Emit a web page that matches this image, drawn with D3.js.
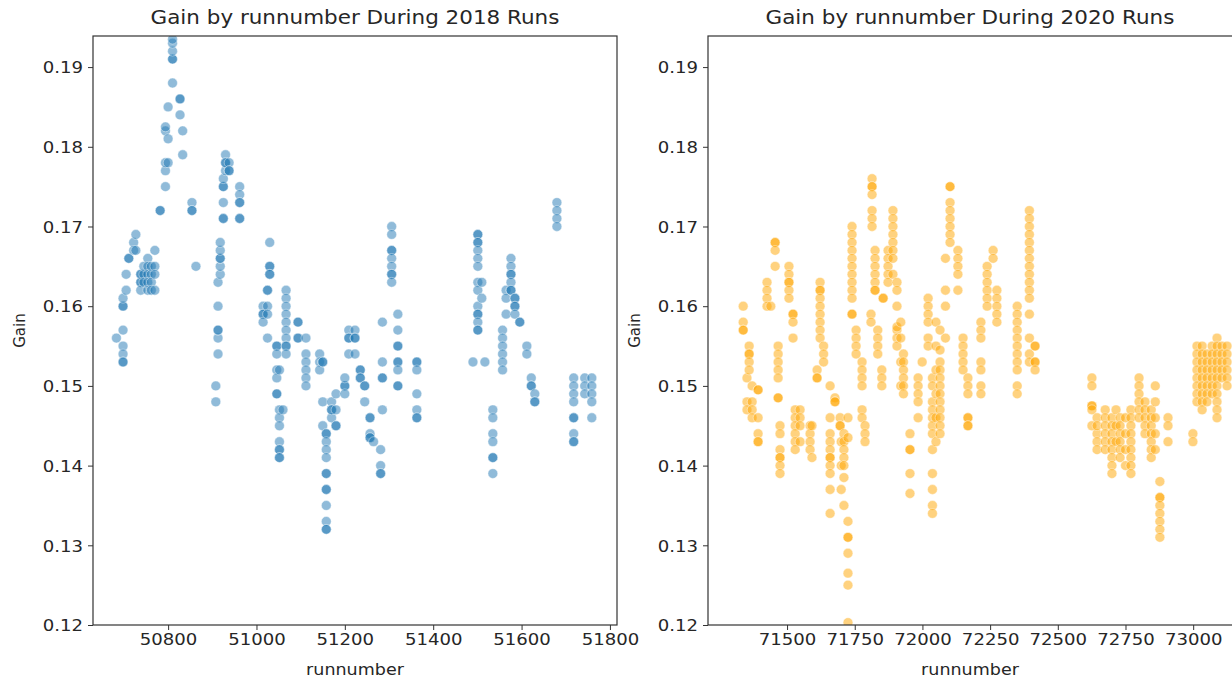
<!DOCTYPE html>
<html><head><meta charset="utf-8">
<script src="https://cdn.jsdelivr.net/npm/d3@7"></script>
<style>
body{margin:0;background:#fff;overflow:hidden}
text{font-family:"DejaVu Sans",sans-serif;fill:#262626}
</style>
</head><body>
<svg id="c" width="1232" height="681"></svg>
<script>
// ---------- data ----------
const title2018 = "Gain by runnumber During 2018 Runs";
const title2020 = "Gain by runnumber During 2020 Runs";
const xLabel = "runnumber";
const yLabel = "Gain";
const yTicks = [0.12, 0.13, 0.14, 0.15, 0.16, 0.17, 0.18, 0.19];
const xTicks2018 = [50800, 51000, 51200, 51400, 51600, 51800];
const xTicks2020 = [71500, 71750, 72000, 72250, 72500, 72750, 73000];

// 2018: run numbers and the gains recorded at each
const runs2018 = [50683,50698,50705,50711,50722,50727,50738,50745,50754,50762,50770,50782,50794,50800,50810,50827,50833,50854,50863,50908,50913,50918,50925,50930,50938,50962,51015,51025,51030,51046,51052,51060,51067,51094,51112,51143,51150,51158,51170,51180,51200,51209,51223,51235,51245,51257,51265,51281,51285,51306,51320,51363,51490,51501,51510,51517,51535,51557,51565,51576,51585,51596,51612,51622,51630,51680,51718,51743,51759];
const gains2018 = [
 [0.156],
 [0.157,0.155,0.154,0.153,0.153,0.160,0.160,0.161],
 [0.162,0.164],
 [0.166,0.166],
 [0.168,0.167],
 [0.169,0.167],
 [0.164,0.163,0.163,0.162,0.164],
 [0.164,0.163,0.165],
 [0.166,0.165,0.164,0.163,0.162],
 [0.164,0.163,0.165,0.162],
 [0.167,0.165,0.164,0.162],
 [0.172,0.172],
 [0.175,0.177,0.178,0.182,0.1825],
 [0.178,0.181,0.185],
 [0.188,0.191,0.191,0.192,0.193,0.1935],
 [0.186,0.186,0.184],
 [0.182,0.179],
 [0.173,0.172,0.172],
 [0.165],
 [0.150,0.148],
 [0.154,0.156,0.157,0.157,0.160,0.163],
 [0.164,0.165,0.166,0.166,0.167,0.168],
 [0.171,0.171,0.173,0.175,0.175,0.176],
 [0.177,0.179,0.178,0.178],
 [0.178,0.177,0.177],
 [0.175,0.174,0.173,0.173,0.171,0.171],
 [0.160,0.159,0.159,0.158],
 [0.160,0.159,0.156,0.162,0.162],
 [0.168,0.165,0.165,0.164,0.164],
 [0.155,0.155,0.154,0.152,0.151,0.149,0.149],
 [0.147,0.146,0.145,0.143,0.142,0.142,0.141,0.141,0.152],
 [0.147],
 [0.162,0.161,0.160,0.159,0.158,0.157,0.156,0.155,0.155,0.154],
 [0.158,0.158,0.156,0.156],
 [0.156,0.154,0.153,0.152,0.151,0.150],
 [0.154,0.153,0.152],
 [0.148,0.145,0.153,0.153],
 [0.144,0.144,0.143,0.142,0.141,0.139,0.139,0.137,0.137,0.135,0.133,0.132,0.132],
 [0.148,0.147,0.146,0.147],
 [0.145,0.145,0.149,0.147],
 [0.150,0.150,0.149,0.151],
 [0.154,0.157,0.156,0.156],
 [0.157,0.156,0.156,0.154],
 [0.152,0.152,0.151,0.151],
 [0.150,0.150,0.148],
 [0.146,0.146,0.144,0.1435,0.1435],
 [0.143],
 [0.142,0.140,0.139,0.139],
 [0.158,0.153,0.151,0.151,0.147],
 [0.170,0.169,0.167,0.167,0.166,0.165,0.164,0.164,0.163],
 [0.159,0.157,0.155,0.155,0.153,0.153,0.152,0.150,0.150],
 [0.153,0.153,0.152,0.149,0.147,0.146,0.146],
 [0.153],
 [0.169,0.169,0.168,0.168,0.167,0.166,0.165,0.163,0.162,0.160,0.159,0.159,0.158,0.157,0.157],
 [0.163,0.161],
 [0.153],
 [0.147,0.146,0.144,0.143,0.141,0.141,0.139],
 [0.157,0.156,0.155,0.154,0.153,0.152],
 [0.162,0.161,0.159],
 [0.166,0.165,0.164,0.164,0.163,0.162,0.162],
 [0.161,0.161,0.160,0.160,0.159],
 [0.158,0.158],
 [0.155,0.154],
 [0.151,0.150,0.150],
 [0.149,0.148,0.148],
 [0.173,0.172,0.171,0.170],
 [0.151,0.150,0.149,0.148,0.146,0.146,0.144,0.143,0.143],
 [0.151,0.150,0.149],
 [0.151,0.150,0.149,0.148,0.146]
];

// 2020: run numbers and the gains recorded at each
const runs2020 = [71338,71352,71360,71371,71393,71426,71440,71456,71467,71474,71507,71522,71530,71548,71585,71592,71611,71622,71635,71659,71677,71696,71700,71710,71725,71740,71755,71777,71788,71810,71814,71825,71835,71850,71855,71873,71891,71906,71920,71930,71954,71984,71999,72021,72037,72050,72065,72085,72102,72131,72150,72168,72216,72239,72261,72275,72350,72395,72416,72626,72645,72675,72700,72715,72730,72750,72770,72800,72822,72845,72860,72877,72907,72999,73014,73033,73051,73070,73088,73106,73125];
const gains2020 = [
 [0.160,0.158,0.157,0.157],
 [0.151,0.148,0.147],
 [0.155,0.154,0.154,0.153,0.152],
 [0.150,0.148,0.147,0.146],
 [0.1495,0.1495,0.146,0.144,0.143,0.143],
 [0.163,0.162,0.161,0.160],
 [0.160],
 [0.168,0.168,0.167,0.165],
 [0.155,0.154,0.153,0.152,0.151,0.1485,0.1485],
 [0.145,0.144,0.142,0.141,0.141,0.140,0.139],
 [0.165,0.164,0.163,0.163,0.162,0.161],
 [0.159,0.159,0.158,0.156],
 [0.147,0.146,0.145,0.144,0.143,0.142],
 [0.147,0.146,0.145,0.143],
 [0.145,0.144,0.143,0.142],
 [0.141,0.145],
 [0.152,0.151,0.151],
 [0.163,0.162,0.162,0.161,0.160,0.159,0.158,0.157,0.156],
 [0.155,0.154,0.153],
 [0.150,0.146,0.144,0.143,0.142,0.141,0.141,0.140,0.139,0.137,0.134],
 [0.1485,0.148,0.148],
 [0.146,0.145,0.145],
 [0.143,0.140,0.137],
 [0.144,0.143,0.142,0.141,0.140,0.1385,0.135],
 [0.146,0.1435,0.133,0.131,0.131,0.129,0.1265,0.125,0.1203],
 [0.170,0.169,0.168,0.167,0.166,0.165,0.164,0.163,0.162,0.161,0.159,0.159],
 [0.157,0.156,0.155,0.154],
 [0.153,0.152,0.151,0.150,0.147,0.146],
 [0.145,0.144,0.143],
 [0.159,0.158],
 [0.176,0.175,0.175,0.174,0.172,0.171,0.170],
 [0.167,0.166,0.165,0.164,0.163,0.162,0.162],
 [0.157,0.156,0.155,0.154],
 [0.152,0.151,0.150],
 [0.161,0.161],
 [0.167,0.166,0.165,0.164,0.163],
 [0.172,0.171,0.170,0.169,0.168,0.167,0.166,0.164],
 [0.163,0.162,0.160,0.157,0.1574,0.156,0.155],
 [0.158,0.156,0.153,0.150],
 [0.154,0.153,0.152,0.151,0.150,0.149],
 [0.144,0.142,0.142,0.139,0.1365],
 [0.151,0.150,0.149,0.148,0.146],
 [0.153],
 [0.161,0.160,0.159,0.158,0.156,0.155],
 [0.151,0.150,0.148,0.147,0.146,0.145,0.144,0.142,0.139,0.137,0.135,0.134],
 [0.158,0.155,0.152,0.149,0.146,0.143],
 [0.1545,0.153,0.152,0.151,0.150,0.149,0.148,0.147,0.146,0.145,0.144,0.157],
 [0.156,0.162,0.160,0.166],
 [0.175,0.175,0.173,0.172,0.171,0.170,0.169,0.168],
 [0.167,0.166,0.165,0.164,0.162],
 [0.156,0.155,0.154,0.153,0.152],
 [0.151,0.150,0.149,0.146,0.146,0.145,0.145],
 [0.158,0.157,0.156,0.153,0.152,0.150,0.149],
 [0.165,0.164,0.163,0.162,0.161,0.160],
 [0.167,0.166],
 [0.162,0.161,0.160,0.159,0.158],
 [0.160,0.159,0.158,0.157,0.156,0.155,0.154,0.153,0.152,0.150,0.149],
 [0.172,0.171,0.170,0.169,0.168,0.167,0.166,0.165,0.164,0.163,0.162,0.161,0.159,0.156,0.154,0.153],
 [0.155,0.153,0.155,0.153,0.152],
 [0.151,0.150,0.1475,0.1475,0.147,0.145],
 [0.146,0.144,0.143,0.142,0.145],
 [0.147,0.146,0.145,0.144,0.143,0.142],
 [0.146,0.145,0.144,0.143,0.142,0.141,0.140,0.139],
 [0.147,0.145,0.143],
 [0.146,0.145,0.144,0.143,0.142,0.141],
 [0.146,0.144,0.142,0.140],
 [0.147,0.146,0.145,0.144,0.143,0.142,0.141,0.140,0.139],
 [0.151,0.150,0.149,0.148,0.147,0.146],
 [0.148,0.147,0.146,0.145,0.144],
 [0.147,0.146,0.145,0.144,0.143,0.142,0.141],
 [0.150,0.148,0.146,0.144,0.142],
 [0.138,0.136,0.136,0.135,0.134,0.133,0.132,0.131],
 [0.146,0.145,0.143],
 [0.144,0.143],
 [0.155,0.154,0.153,0.152,0.151,0.150,0.149,0.148],
 [0.155,0.154,0.153,0.152,0.151,0.150,0.149,0.148,0.147],
 [0.154,0.153,0.152,0.151,0.150,0.149,0.148],
 [0.155,0.154,0.153,0.152,0.151,0.150,0.149],
 [0.156,0.155,0.154,0.153,0.152,0.151,0.150,0.149,0.148,0.147,0.146],
 [0.155,0.154,0.153,0.152,0.151],
 [0.155,0.154,0.153,0.152,0.151,0.150]
];

const color2018 = "#1f77b4";
const color2020 = "#ffa500";

// ---------- drawing ----------
const SX = 1.13; // horizontal stretch of the reference image's text
const svg = d3.select("#c");
const yDomain = [0.12, 0.1939];

const defs = svg.append("defs");
defs.append("filter").attr("id", "soft")
  .append("feGaussianBlur").attr("stdDeviation", 0.35);

function stretch(sel){
  sel.each(function(){
    const l = this.getComputedTextLength();
    this.setAttribute("textLength", l*SX);
    this.setAttribute("lengthAdjust","spacingAndGlyphs");
  });
}

function panel(id, left, top, width, height, xDomain, xTicks, runs, gains, color, title){
  const x = d3.scaleLinear().domain(xDomain).range([0, width]);
  const y = d3.scaleLinear().domain(yDomain).range([height, 0]);
  const g = svg.append("g").attr("transform", `translate(${left},${top})`);

  g.append("clipPath").attr("id", "clip"+id)
    .append("rect").attr("width", width).attr("height", height);

  const pts = [];
  runs.forEach((r,i)=> gains[i].forEach(v=> pts.push([r,v])));
  g.append("g").attr("clip-path", `url(#clip${id})`)
    .append("g").attr("filter", "url(#soft)")
    .selectAll("circle").data(pts).join("circle")
    .attr("cx", d=>x(d[0])).attr("cy", d=>y(d[1])).attr("r", 4.9)
    .attr("fill", color).attr("fill-opacity", 0.5)
    .attr("stroke", "#fff").attr("stroke-width", 0.7).attr("stroke-opacity", 0.6);

  // axes
  const xa = g.append("g").attr("transform", `translate(0,${height})`)
    .call(d3.axisBottom(x).tickValues(xTicks).tickFormat(d3.format("d")).tickSize(5).tickPadding(4));
  const ya = g.append("g")
    .call(d3.axisLeft(y).tickValues(yTicks).tickFormat(d3.format(".2f")).tickSize(5).tickPadding(5));
  [xa, ya].forEach(a=>{
    a.select(".domain").remove();
    a.selectAll(".tick line").attr("stroke", "#333").attr("stroke-width", 1);
    a.selectAll(".tick text").attr("font-size", 16).attr("fill", "#262626")
      .style("font-family", '"DejaVu Sans", sans-serif');
  });
  ya.selectAll(".tick text").attr("dy", "0.36em");
  stretch(xa.selectAll(".tick text"));
  stretch(ya.selectAll(".tick text"));

  // frame
  g.append("rect").attr("width", width).attr("height", height)
    .attr("fill", "none").attr("stroke", "#333").attr("stroke-width", 1.2);

  const t = g.append("text").attr("x", 262).attr("y", -12)
    .attr("text-anchor", "middle").attr("font-size", 19).text(title);
  stretch(t);
  const xl = g.append("text").attr("x", 262).attr("y", height + 50)
    .attr("text-anchor", "middle").attr("font-size", 15.5).text(xLabel);
  stretch(xl);
  g.append("text").attr("transform", `translate(${-68},${height/2}) rotate(-90)`)
    .attr("text-anchor", "middle").attr("font-size", 15).text(yLabel);
}

panel("a", 93, 36, 524, 589, [50630, 51816], xTicks2018, runs2018, gains2018, color2018, title2018);
panel("b", 708, 36, 548, 589, [71208, 73232], xTicks2020, runs2020, gains2020, color2020, title2020);
</script>
</body></html>
